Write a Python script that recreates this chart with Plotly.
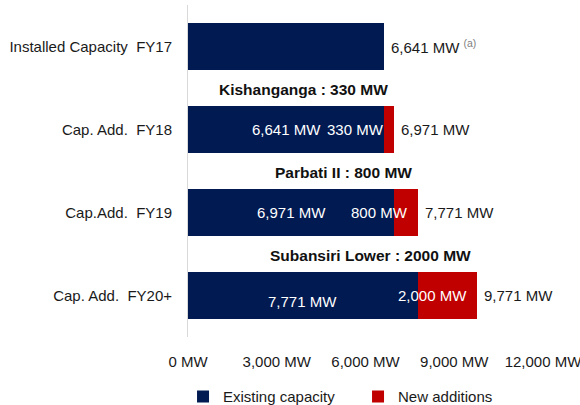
import plotly.graph_objects as go

categories = ["Installed Capacity\u00a0 FY17", "Cap. Add.\u00a0 FY18", "Cap.Add.\u00a0 FY19", "Cap. Add.\u00a0 FY20+"]
existing = [6641, 6641, 6971, 7771]
new_add = [0, 330, 800, 2000]
projects = [None, "Kishanganga : 330 MW", "Parbati II : 800 MW", "Subansiri Lower : 2000 MW"]
tick_vals = [0, 3000, 6000, 9000, 12000]
tick_text = ["0 MW", "3,000 MW", "6,000 MW", "9,000 MW", "12,000 MW"]

NAVY = "#011a52"
RED = "#c00000"
FONT = "Liberation Sans, Arial, sans-serif"

fig = go.Figure()
fig.add_trace(go.Bar(y=categories, x=existing, orientation="h", name="Existing capacity",
                     marker=dict(color=NAVY, line=dict(width=0)), width=0.57))
fig.add_trace(go.Bar(y=categories, x=new_add, orientation="h", name="New additions",
                     marker=dict(color=RED, line=dict(width=0)), width=0.57))

def fmt(v):
    return f"{v:,} MW"

ann = []
for i, cat in enumerate(categories):
    total = existing[i] + new_add[i]
    txt = fmt(total)
    if i == 0:
        txt += " <span style='color:#808080'><sup>(a)</sup></span>"
    ann.append(dict(x=total, y=cat, text=txt, xanchor="left", xshift=5, showarrow=False,
                    font=dict(size=15, color="#1a1a1a", family=FONT)))
    if new_add[i] > 0:
        ys = -6 if i == 3 else 0
        ann.append(dict(x=existing[i] / 2, y=cat, text=fmt(existing[i]), xanchor="center",
                        yshift=ys, showarrow=False, font=dict(size=15, color="white", family=FONT)))
        ann.append(dict(x=total, y=cat, text=fmt(new_add[i]), xanchor="right", xshift=-8,
                        showarrow=False, font=dict(size=15, color="white", family=FONT)))
        ann.append(dict(x=total, y=cat, text=f"<b>{projects[i]}</b>", xanchor="right", xshift=-4,
                        yshift=40, showarrow=False, font=dict(size=15.5, color="#111111", family=FONT)))

fig.update_layout(
    barmode="stack",
    width=580, height=405,
    margin=dict(l=188, r=37, t=5, b=68, autoexpand=False),
    plot_bgcolor="white", paper_bgcolor="white",
    font=dict(family=FONT, size=15, color="#1a1a1a"),
    annotations=ann,
    showlegend=True,
    legend=dict(orientation="h", x=-0.014, xanchor="left", y=-0.13, yanchor="top",
                traceorder="normal",
                font=dict(size=15, color="#1a1a1a"), entrywidth=130, entrywidthmode="pixels",
                itemwidth=30),
    xaxis=dict(range=[0, 12000], tickvals=tick_vals, ticktext=tick_text, showgrid=False,
               zeroline=False, showline=False, ticks="outside", ticklen=11, automargin=False,
               ticklabeloverflow="allow",
               tickcolor="rgba(0,0,0,0)", tickfont=dict(size=15, color="#1a1a1a")),
    yaxis=dict(range=[3.5, -0.5], showgrid=False, zeroline=False, showline=True,
               linecolor="#d9d9d9", linewidth=1, ticks="outside", ticklen=12, automargin=False,
               tickcolor="rgba(0,0,0,0)", tickfont=dict(size=15, color="#1a1a1a")),
)

fig.write_html("out.html", config={"displayModeBar": False},
               post_script="document.body.style.margin='0';document.body.style.overflow='hidden';")
